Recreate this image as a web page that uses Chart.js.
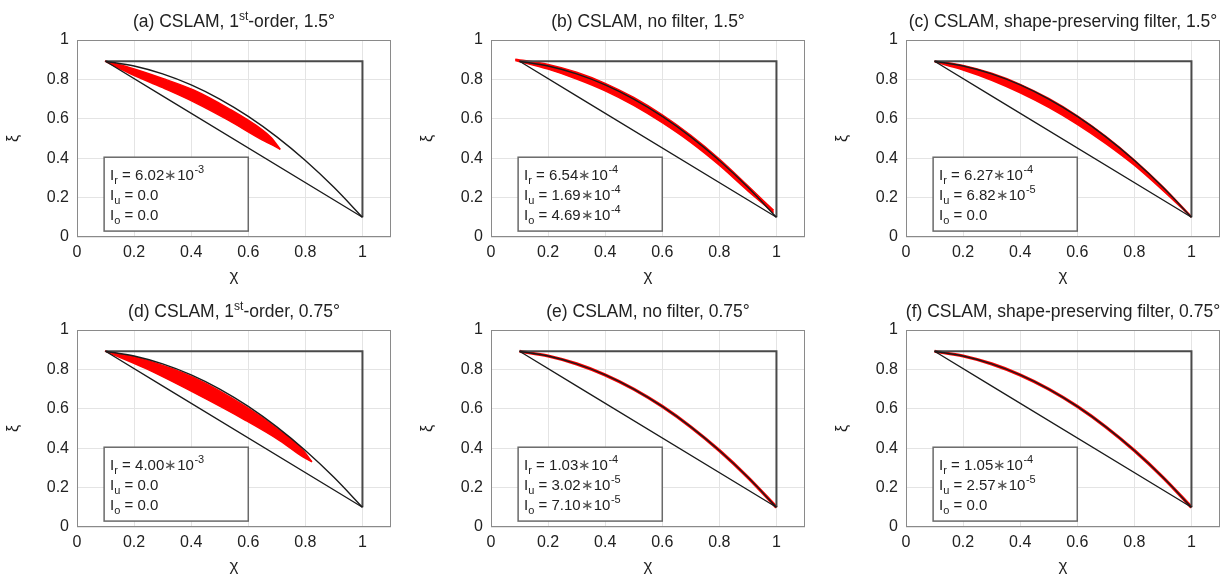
<!DOCTYPE html>
<html>
<head>
<meta charset="utf-8">
<script src="https://cdn.jsdelivr.net/npm/chart.js@4.4.1/dist/chart.umd.min.js"></script>
<style>
html, body { margin: 0; padding: 0; background: #fff; overflow: hidden; width: 1222px; height: 577px; }
canvas { position: absolute; }
</style>
</head>
<body>
<script>
// exact curve xi(chi) and the straight mixing line
const curveX = [0.1, 0.2, 0.3, 0.4, 0.5, 0.6, 0.7, 0.8, 0.9, 1.0];
const curveY = [0.892, 0.868, 0.828, 0.772, 0.700, 0.612, 0.508, 0.388, 0.252, 0.100];
const diagX = [0.1, 1.0];
const diagY = [0.892, 0.1];
const rimX = [0.1, 1.0, 1.0];
const rimY = [0.892, 0.892, 0.1];

// red scatter clouds: upper and lower edge of each cloud
const aTop = [[0.098, 0.893], [0.18, 0.862], [0.3, 0.805], [0.41, 0.745], [0.53, 0.653], [0.65, 0.543], [0.68, 0.505], [0.712, 0.445]];
const aLow = [[0.098, 0.893], [0.18, 0.834], [0.3, 0.758], [0.41, 0.685], [0.53, 0.593], [0.65, 0.492], [0.68, 0.47], [0.712, 0.445]];
const bTop = [[0.085, 0.902], [0.2, 0.876], [0.3, 0.836], [0.4, 0.78], [0.5, 0.708], [0.6, 0.62], [0.7, 0.516], [0.8, 0.396], [0.9, 0.26], [0.99, 0.135]];
const bLow = [[0.085, 0.896], [0.2, 0.852], [0.3, 0.802], [0.4, 0.742], [0.5, 0.668], [0.6, 0.58], [0.7, 0.48], [0.8, 0.364], [0.9, 0.234], [0.99, 0.124]];
const cTop = [[0.1, 0.894], [0.2, 0.871], [0.3, 0.831], [0.4, 0.775], [0.5, 0.703], [0.6, 0.615], [0.7, 0.511], [0.8, 0.391], [0.9, 0.255], [1.0, 0.103]];
const cLow = [[0.1, 0.889], [0.2, 0.848], [0.3, 0.796], [0.4, 0.732], [0.5, 0.658], [0.6, 0.572], [0.7, 0.474], [0.8, 0.364], [0.9, 0.236], [1.0, 0.1]];
const dTop = [[0.098, 0.893], [0.24, 0.848], [0.41, 0.758], [0.59, 0.612], [0.71, 0.49], [0.79, 0.392], [0.823, 0.331]];
const dLow = [[0.098, 0.893], [0.24, 0.805], [0.41, 0.682], [0.59, 0.542], [0.71, 0.439], [0.79, 0.357], [0.823, 0.331]];

const xTicks = [0, 0.2, 0.4, 0.6, 0.8, 1];
const yTicks = [0, 0.2, 0.4, 0.6, 0.8, 1];

// titles: [text, superscript, rest]
const titles = [
  ["(a) CSLAM, 1", "st", "-order, 1.5°"],
  ["(b) CSLAM, no filter, 1.5°", "", ""],
  ["(c) CSLAM, shape-preserving filter, 1.5°", "", ""],
  ["(d) CSLAM, 1", "st", "-order, 0.75°"],
  ["(e) CSLAM, no filter, 0.75°", "", ""],
  ["(f) CSLAM, shape-preserving filter, 0.75°", "", ""]
];

// error norms: mantissa and exponent (null = plain)
const lrMant = ["6.02", "6.54", "6.27", "4.00", "1.03", "1.05"];
const lrExp = ["-3", "-4", "-4", "-3", "-4", "-4"];
const luMant = ["0.0", "1.69", "6.82", "0.0", "3.02", "2.57"];
const luExp = [null, "-4", "-5", null, "-5", "-5"];
const loMant = ["0.0", "4.69", "0.0", "0.0", "7.10", "0.0"];
const loExp = [null, "-4", null, null, "-5", null];

const bands = [[aTop, aLow], [bTop, bLow], [cTop, cLow], [dTop, dLow], null, null];

const FONT = '"Liberation Sans", Arial, sans-serif';
const panelLeft = [0, 414, 829, 0, 414, 829];
const panelTop = [0, 0, 0, 290, 290, 290];
const boxL = 0.095, boxR = 0.6, boxT = 0.405, boxB = 0.03;

function pts(xs, ys) { return xs.map((v, k) => ({ x: v, y: ys[k] })); }
function pairs(p) { return p.map(q => ({ x: q[0], y: q[1] })); }
function fmt(v) { return String(+Number(v).toFixed(1)); }

const decor = {
  id: "decor",
  afterDatasetsDraw(chart, args, opts) {
    const { ctx, chartArea: a, scales: { x, y } } = chart;
    const i = opts.index;
    ctx.save();
    ctx.strokeStyle = "#8a8a8a";
    ctx.lineWidth = 1;
    ctx.strokeRect(a.left + 0.5, a.top + 0.5, a.width - 1, a.height - 1);

    const bl = x.getPixelForValue(boxL), br = x.getPixelForValue(boxR);
    const bt = y.getPixelForValue(boxT), bb = y.getPixelForValue(boxB);
    ctx.fillStyle = "#fff";
    ctx.fillRect(bl, bt, br - bl, bb - bt);
    ctx.strokeStyle = "#6a6a6a";
    ctx.lineWidth = 1.5;
    ctx.strokeRect(bl, bt, br - bl, bb - bt);

    const rows = [["r", lrMant[i], lrExp[i]], ["u", luMant[i], luExp[i]], ["o", loMant[i], loExp[i]]];
    ctx.fillStyle = "#222";
    ctx.textAlign = "left";
    ctx.textBaseline = "alphabetic";
    rows.forEach((r, k) => {
      let tx = bl + 6;
      const ty = bt + 23 + 20 * k;
      ctx.font = "15px " + FONT;
      ctx.fillText("I", tx, ty);
      tx += ctx.measureText("I").width;
      ctx.font = "11px " + FONT;
      ctx.fillText(r[0], tx, ty + 4);
      tx += ctx.measureText(r[0]).width;
      ctx.font = "15px " + FONT;
      const main = " = " + r[1];
      ctx.fillText(main, tx, ty);
      tx += ctx.measureText(main).width;
      if (r[2]) {
        ctx.fillStyle = "#555";
        ctx.fillText("∗", tx, ty);
        tx += ctx.measureText("∗").width;
        ctx.fillStyle = "#222";
        ctx.fillText("10", tx, ty);
        tx += ctx.measureText("10").width;
        ctx.font = "11px " + FONT;
        ctx.fillText(r[2], tx + 0.5, ty - 7);
      }
    });
    ctx.restore();
  },
  afterDraw(chart, args, opts) {
    const { ctx, chartArea: a } = chart;
    const t = titles[opts.index];
    const big = "17.5px " + FONT, small = "12px " + FONT;
    ctx.save();
    ctx.fillStyle = "#222";
    ctx.textBaseline = "alphabetic";
    ctx.textAlign = "left";
    ctx.font = big;
    const w1 = ctx.measureText(t[0]).width, w3 = ctx.measureText(t[2]).width;
    ctx.font = small;
    const w2 = ctx.measureText(t[1]).width;
    let tx = (a.left + a.right) / 2 - (w1 + w2 + w3) / 2;
    ctx.font = big;
    ctx.fillText(t[0], tx, 27);
    tx += w1;
    ctx.font = small;
    ctx.fillText(t[1], tx, 20);
    tx += w2;
    ctx.font = big;
    ctx.fillText(t[2], tx, 27);
    ctx.restore();
  }
};

function lineSet(data, color, width, order, extra) {
  return Object.assign({
    data: data, borderColor: color, backgroundColor: color, borderWidth: width,
    pointRadius: 0, fill: false, order: order, cubicInterpolationMode: "monotone"
  }, extra || {});
}

for (let i = 0; i < 6; i++) {
  const cv = document.createElement("canvas");
  cv.width = 400; cv.height = 290;
  cv.style.left = panelLeft[i] + "px";
  cv.style.top = panelTop[i] + "px";
  document.body.appendChild(cv);

  const ds = [];
  if (bands[i]) {
    ds.push(lineSet(pairs(bands[i][0]), "#ff0000", 1.5, 3, { fill: "+1" }));
    ds.push(lineSet(pairs(bands[i][1]), "#ff0000", 1.5, 3));
  } else {
    ds.push(lineSet(pts(curveX, curveY), "#ff0000", 3.2, 3));
  }
  ds.push(lineSet(pts(curveX, curveY), "#1a1a1a", 1.4, 0));
  ds.push(lineSet(pts(diagX, diagY), "#1a1a1a", 1.3, 0));
  ds.push(lineSet(pts(rimX, rimY), "#4a4a4a", 2, 0));

  new Chart(cv, {
    type: "line",
    data: { datasets: ds },
    plugins: [decor],
    options: {
      responsive: false,
      animation: false,
      events: [],
      layout: { padding: { top: 40, right: 9, left: 0, bottom: 0 } },
      plugins: { legend: { display: false }, tooltip: { enabled: false }, decor: { index: i } },
      scales: {
        x: {
          type: "linear", min: 0, max: 1.1,
          afterBuildTicks: s => { s.ticks = xTicks.map(v => ({ value: v })); },
          afterFit: s => { s.height = 53; },
          ticks: { callback: fmt, color: "#222", font: { family: FONT, size: 16 }, padding: 6, maxRotation: 0 },
          grid: { color: "#e4e4e4", drawTicks: false },
          border: { display: false },
          title: { display: true, text: "χ", color: "#222", font: { family: FONT, size: 17 }, padding: { bottom: 3, top: 0 } }
        },
        y: {
          type: "linear", min: 0, max: 1,
          afterBuildTicks: s => { s.ticks = yTicks.map(v => ({ value: v })); },
          afterFit: s => { s.width = 77; },
          ticks: { callback: fmt, color: "#222", font: { family: FONT, size: 16 }, padding: 8 },
          grid: { color: "#e4e4e4", drawTicks: false },
          border: { display: false },
          title: { display: true, text: "ξ", color: "#222", font: { family: FONT, size: 16 }, padding: { top: 4, bottom: 0 } }
        }
      }
    }
  });
}
</script>
</body>
</html>
